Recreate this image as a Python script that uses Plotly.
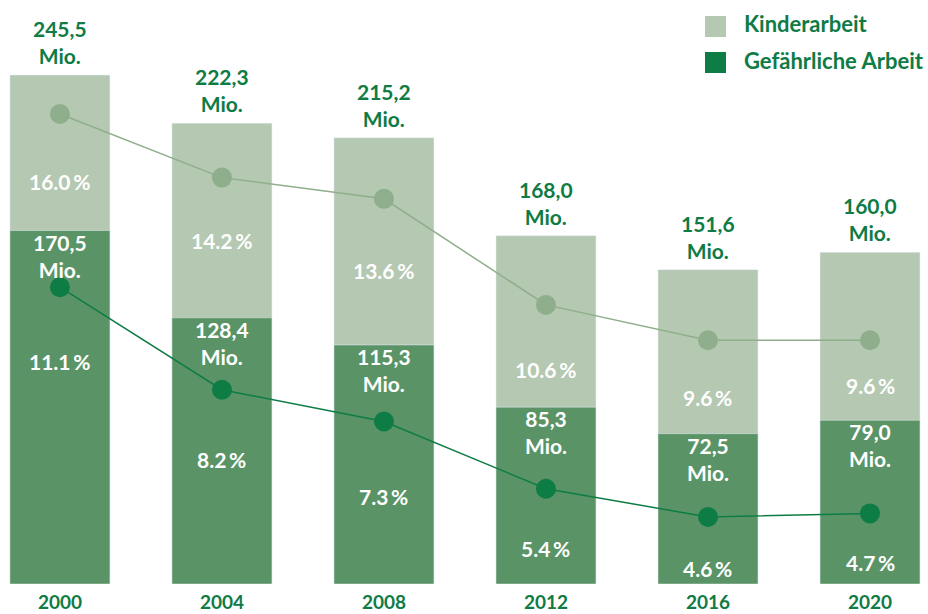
import plotly.graph_objects as go

# ---- data ----
years = ["2000", "2004", "2008", "2012", "2016", "2020"]
kinderarbeit_mio = [245.5, 222.3, 215.2, 168.0, 151.6, 160.0]
gefaehrlich_mio = [170.5, 128.4, 115.3, 85.3, 72.5, 79.0]
kinderarbeit_pct = [16.0, 14.2, 13.6, 10.6, 9.6, 9.6]
gefaehrlich_pct = [11.1, 8.2, 7.3, 5.4, 4.6, 4.7]

# ---- styling ----
LIGHT_BAR = "#b5c8b1"
DARK_BAR = "#5a9466"
LIGHT_LINE = "#8fae8c"
DARK_LINE = "#0e7c45"
TEXT_GREEN = "#0f7b45"
FONT = "Lato"

W, H = 928, 614
M_T, M_B = 40, 30
PLOT_H = H - M_T - M_B

# label offsets below the line markers (px), layout only
light_label_offset = [68, 63, 72, 65, 57, 45]
dark_label_offset = [74, 70, 75, 60, 52, 49]


def fmt_mio(v):
    return f"{v:.1f}".replace(".", ",")


def fmt_pct(v):
    return f"{v:.1f}\u2009%"


def py(pix):
    """pixel y (from top of page) -> paper y"""
    return (H - M_B - pix) / PLOT_H


def px(pix):
    return pix / W


fig = go.Figure()

fig.add_trace(go.Bar(x=years, y=kinderarbeit_mio, marker_color=LIGHT_BAR,
                     width=0.617, name="Kinderarbeit", showlegend=False,
                     hoverinfo="skip"))
fig.add_trace(go.Bar(x=years, y=gefaehrlich_mio, marker_color=DARK_BAR,
                     width=0.617, name="Gefährliche Arbeit", showlegend=False,
                     hoverinfo="skip"))
fig.add_trace(go.Scatter(x=years, y=kinderarbeit_pct, yaxis="y2",
                         mode="lines+markers",
                         line=dict(color=LIGHT_LINE, width=1.5),
                         marker=dict(color=LIGHT_LINE, size=20),
                         showlegend=False))
fig.add_trace(go.Scatter(x=years, y=gefaehrlich_pct, yaxis="y2",
                         mode="lines+markers",
                         line=dict(color=DARK_LINE, width=1.5),
                         marker=dict(color=DARK_LINE, size=20),
                         showlegend=False))

annotations = []
for i, yr in enumerate(years):
    annotations.append(dict(
        x=i, y=kinderarbeit_mio[i], xref="x", yref="y", yanchor="bottom",
        yshift=5, showarrow=False,
        text=f"<b>{fmt_mio(kinderarbeit_mio[i])}<br>Mio.</b>",
        font=dict(family=FONT, size=21, color=TEXT_GREEN)))
    annotations.append(dict(
        x=i, y=gefaehrlich_mio[i], xref="x", yref="y", yanchor="top",
        yshift=3, showarrow=False,
        text=f"<b>{fmt_mio(gefaehrlich_mio[i])}<br>Mio.</b>",
        font=dict(family=FONT, size=21, color="white")))
    annotations.append(dict(
        x=i, y=kinderarbeit_pct[i], xref="x", yref="y2", yanchor="middle",
        yshift=-light_label_offset[i], showarrow=False,
        text=f"<b>{fmt_pct(kinderarbeit_pct[i])}</b>",
        font=dict(family=FONT, size=21, color="white")))
    annotations.append(dict(
        x=i, y=gefaehrlich_pct[i], xref="x", yref="y2", yanchor="middle",
        yshift=-dark_label_offset[i], showarrow=False,
        text=f"<b>{fmt_pct(gefaehrlich_pct[i])}</b>",
        font=dict(family=FONT, size=21, color="white")))

# legend drawn manually: (label, colour, square centre y px, text centre y px)
legend_items = [("Kinderarbeit", LIGHT_BAR, 26.5, 23),
                ("Gefährliche Arbeit", DARK_LINE, 62.5, 60.5)]
shapes = []
for label, col, cy, ty in legend_items:
    shapes.append(dict(type="rect", xref="paper", yref="paper",
                       x0=px(705), x1=px(726), y0=py(cy + 10.5), y1=py(cy - 10.5),
                       fillcolor=col, line=dict(width=0)))
    annotations.append(dict(x=px(742), y=py(ty), xref="paper", yref="paper",
                            xanchor="left", yanchor="middle", showarrow=False,
                            text=f"<b>{label}</b>",
                            font=dict(family=FONT, size=22, color=TEXT_GREEN)))

fig.update_layout(
    width=W, height=H,
    margin=dict(l=0, r=0, t=M_T, b=M_B, autoexpand=False),
    paper_bgcolor="white", plot_bgcolor="white",
    barmode="overlay",
    xaxis=dict(type="category", range=[-0.37, 5.358], showgrid=False,
               zeroline=False, showline=False, ticks="", automargin=False,
               ticklabelstandoff=5,
               tickfont=dict(family=FONT, size=19, color=TEXT_GREEN, weight="bold")),
    yaxis=dict(range=[0, 262.4], visible=False, showgrid=False, zeroline=False,
               automargin=False),
    yaxis2=dict(range=[2.704, 18.093], overlaying="y", visible=False,
                showgrid=False, zeroline=False, automargin=False),
    annotations=annotations,
    shapes=shapes,
)

fig.write_html("out.html", config={"displayModeBar": False},
               post_script="document.body.style.margin='0px';")
